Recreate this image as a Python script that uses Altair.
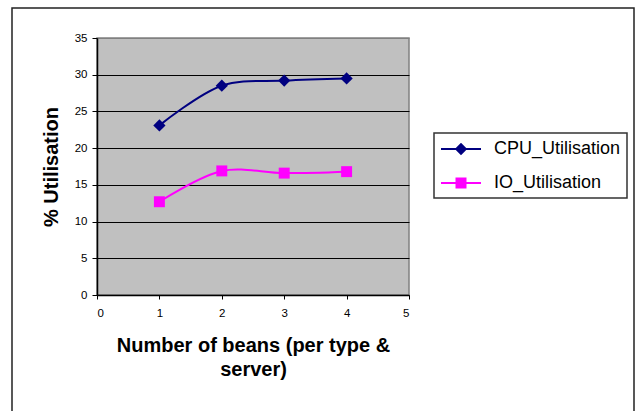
import altair as alt
import pandas as pd

# ---- data ----
beans = [1, 2, 3, 4]
cpu_util = [23.1, 28.5, 29.2, 29.5]
io_util = [12.7, 16.9, 16.6, 16.8]
series_names = ["CPU_Utilisation", "IO_Utilisation"]
series_colors = ["#000080", "#FF00FF"]
x_ticks = [0, 1, 2, 3, 4, 5]
y_ticks = [0, 5, 10, 15, 20, 25, 30, 35]
x_title = ["Number of beans (per type &", "server)"]
y_title = "% Utilisation"

df = pd.DataFrame({
    "beans": beans + beans,
    "util": cpu_util + io_util,
    "series": [series_names[0]] * len(beans) + [series_names[1]] * len(beans),
})

# legend symbols: a line with a marker in the middle (Excel style)
legend_paths = [
    "M-2,-0.1L2,-0.1L2,0.1L-2,0.1ZM0,-0.62L0.62,0L0,0.62L-0.62,0Z",
    "M-2,-0.1L2,-0.1L2,0.1L-2,0.1ZM-0.55,-0.55L0.55,-0.55L0.55,0.55L-0.55,0.55Z",
]

FONT = "Liberation Sans"

x_enc = alt.X(
    "beans:Q",
    scale=alt.Scale(domain=[0, 5], nice=False, zero=False),
    axis=alt.Axis(
        values=x_ticks, grid=False, tickSize=4, labelPadding=8,
        title=x_title, titleFont=FONT, titleFontSize=20, titleFontWeight="bold",
        titlePadding=17, titleLineHeight=24, titleColor="black",
    ),
)
y_enc = alt.Y(
    "util:Q",
    scale=alt.Scale(domain=[0, 35], nice=False),
    axis=alt.Axis(
        values=y_ticks, grid=True,
        gridColor={"condition": {"test": "datum.value >= 35", "value": "#808080"}, "value": "black"},
        gridWidth=1, tickSize=5, labelPadding=5,
        title=y_title, titleFont=FONT, titleFontSize=20, titleFontWeight="bold",
        titlePadding=13, titleColor="black",
    ),
)
color_scale = alt.Scale(domain=series_names, range=series_colors)

legend_cfg = dict(
    title=None, orient="none", legendX=337, legendY=95, padding=6,
    strokeColor="#333333", fillColor="white",
    symbolSize=400, symbolOffset=11, labelOffset=23, rowPadding=15,
    labelFontSize=18, labelFont=FONT, labelColor="black",
    symbolStrokeWidth=0,
)

base = alt.Chart(df)

frame = alt.Chart(alt.Data(values=[{}])).mark_rect(
    fillOpacity=0, stroke="#222222", strokeWidth=1.5, clip=False
).encode(x=alt.value(-85), x2=alt.value(537), y=alt.value(-30), y2=alt.value(420))

lines = base.mark_line(interpolate="catmull-rom", strokeWidth=2).encode(
    x=x_enc, y=y_enc,
    color=alt.Color("series:N", scale=color_scale, legend=None),
)

cpu_pts = base.transform_filter(alt.datum.series == series_names[0]).mark_point(
    shape="diamond", filled=True, size=150, opacity=1
).encode(x=x_enc, y=y_enc, color=alt.Color("series:N", scale=color_scale, legend=None))

io_pts = base.transform_filter(alt.datum.series == series_names[1]).mark_point(
    shape="square", filled=True, size=120, opacity=1
).encode(x=x_enc, y=y_enc, color=alt.Color("series:N", scale=color_scale, legend=None))

legend_layer = base.transform_calculate(util="-100").mark_point(
    filled=True, size=400, opacity=1, clip=True
).encode(
    x=x_enc, y=y_enc,
    color=alt.Color("series:N", scale=color_scale, legend=alt.Legend(**legend_cfg)),
    shape=alt.Shape("series:N", scale=alt.Scale(domain=series_names, range=legend_paths),
                    legend=alt.Legend(**legend_cfg)),
)

chart = alt.layer(frame, lines, cpu_pts, io_pts, legend_layer).resolve_legend(
    color="independent", shape="independent"
).properties(
    width=312, height=257,
    autosize=alt.AutoSizeParams(type="none"),
    padding={"left": 97, "top": 38, "right": 227, "bottom": 116},
    background="white",
).configure_view(
    fill="#C0C0C0", stroke="#808080", strokeWidth=1.5
).configure_axis(
    domainColor="black", tickColor="black", labelFont=FONT, labelFontSize=11.5,
    labelColor="black", domainWidth=1.5, tickWidth=1,
).configure_legend(
    strokeWidth=1.5
)

chart.save("out.html", embed_options={"renderer": "svg", "actions": False})
